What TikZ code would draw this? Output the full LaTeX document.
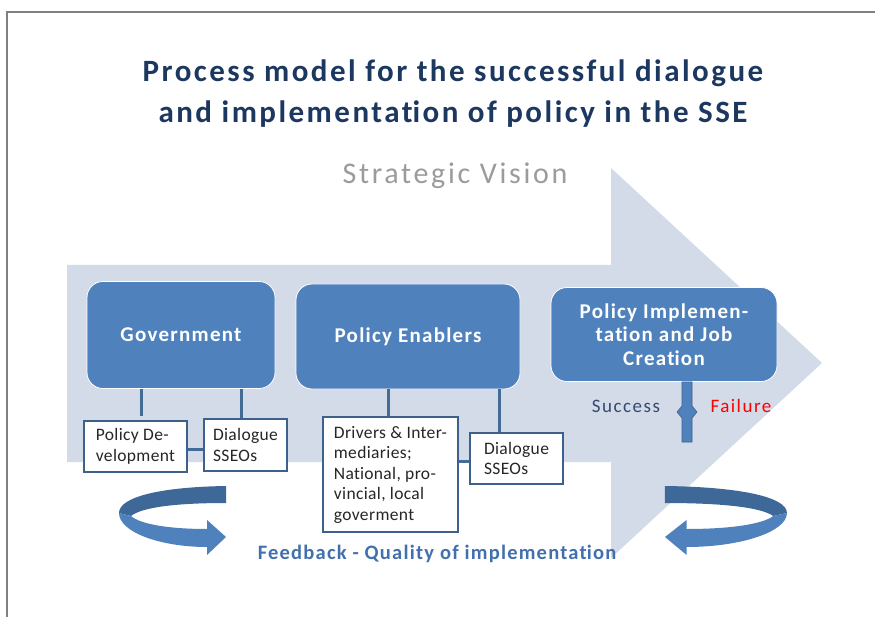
\documentclass[tikz,border=0pt]{standalone}
\usepackage{fontspec}
\setmainfont{Carlito}[Ligatures=NoCommon]
\usetikzlibrary{calc,positioning}

\definecolor{band}{RGB}{211,218,232}
\definecolor{boxblue}{RGB}{79,129,189}
\definecolor{edgeblue}{RGB}{62,96,140}
\definecolor{linkblue}{RGB}{68,106,150}
\definecolor{titlenavy}{RGB}{28,56,96}
\definecolor{visiongray}{RGB}{155,155,155}
\definecolor{feedblue}{RGB}{66,112,174}
\definecolor{loopdark}{RGB}{62,104,152}
\definecolor{looplight}{RGB}{79,129,189}
\definecolor{successblue}{RGB}{52,74,112}

% font size, line skip and tracking
\newcommand\spread[3]{\fontsize{#1}{#2}\selectfont\addfontfeature{LetterSpace=#3}}
% keeps t and i as two letters
\newcommand\septi{t\kern0pt i}

\tikzset{
	pics/feedloop/.style={code={
		\fill[loopdark] (226,486) .. controls (160,487) and (119,497) .. (119,513) -- (131,516) .. controls (142,507) and (178,503) .. (226,503) -- cycle;
		\fill[looplight] (119,513) .. controls (119,532) and (160,547) .. (207,547) -- (207,555) -- (226,537) -- (207,520) -- (207,529) .. controls (168,529) and (140,524) .. (131,516) -- cycle;
	}}
}

\begin{document}
\begin{tikzpicture}[x=1pt,y=-1pt,
		bigbox/.style={draw=white,line width=.8pt,fill=boxblue,rounded corners=16pt,text=white,
			font=\bfseries\spread{21}{23.5}{6},align=center},
		smallbox/.style={draw=edgeblue,line width=1.2pt,fill=white,text=black!85,
			font=\spread{17.5}{20.5}{2},align=left,inner sep=0pt},
		link/.style={draw=linkblue,line width=3pt}]
		\useasboundingbox (0,0) rectangle (875,617);
		\draw[gray,line width=1.5pt] (7,617) -- (7,12) -- (875,12);
		% the wide arrow behind everything
		\fill[band] (67,265) -- (611,265) -- (611,168) -- (822,363) -- (611,558) -- (611,462) -- (67,462) -- cycle;
		\node[text=titlenavy,font=\bfseries\spread{31}{41}{8},align=center] (title) at (453,94)
			{Process model for the successful dialogue\\and implementa\septi on of policy in the SSE};
		\node[text=visiongray,font=\spread{30}{34}{9}] (vision) at (455,176) {Strategic Vision};
		% main stages
		\node[bigbox,minimum width=188,minimum height=107] (gov) at (181,335) {Government};
		\node[bigbox,minimum width=224,minimum height=105] (enab) at (408,336.5) {Policy Enablers};
		\node[bigbox,minimum width=226,minimum height=94] (impl) at (664,334.5) {Policy Implemen-\\ta\septi on and Job\\Crea\septi on};
		% boxes below the stages
		\node[smallbox,minimum width=103,minimum height=51] (pdev) at (135.5,446.5) {Policy De-\\velopment};
		\node[smallbox,minimum width=83,minimum height=52] (dlga) at (245.5,445) {Dialogue\\SSEOs};
		\node[smallbox,minimum width=135,minimum height=115] (drv) at (390.5,474.5)
			{Drivers \& Inter-\\mediaries;\\Na\septi onal, pro-\\vincial, local\\goverment};
		\node[smallbox,minimum width=93,minimum height=51] (dlgb) at (516.5,458.5) {Dialogue\\SSEOs};
		\draw[link] (gov.south -| 141,0) -- ([yshift=4pt]pdev.north -| 141,0);
		\draw[link] (dlga.north -| 241,0) -- (gov.south -| 241,0);
		\draw[link] ([yshift=-3pt]pdev.east) -- ([yshift=-3pt]pdev.east -| dlga.west);
		\draw[link] (enab.south -| 388,0) -- (drv.north -| 388,0);
		\draw[link] (dlgb.north -| 499,0) -- (enab.south -| 499,0);
		\draw[link] ([yshift=13.5pt]drv.east) -- ([yshift=13.5pt]drv.east -| dlgb.west);
		% outcome of the implementation
		\draw[fill=boxblue,draw=edgeblue,line width=.6pt] (impl.south -| 682,0) -- (682,406) -- (677,412) -- (682,418) -- (682,442)
			-- (692,442) -- (692,418) -- (697,412) -- (692,406) -- (impl.south -| 692,0) -- cycle;
		\node[text=successblue,font=\spread{19}{22}{8}] (succ) at (626,406) {Success};
		\node[text=red,font=\spread{19}{22}{8}] (fail) at (741,406) {Failure};
		% feedback loops
		\pic at (0,0) {feedloop};
		\pic[xscale=-1.14] at (922.6,0) {feedloop};
		\node[text=feedblue,font=\bfseries\spread{20.5}{24}{6}] (feed) at (437,554) {Feedback - Quality of implementa\septi on};
	\end{tikzpicture}
\end{document}
